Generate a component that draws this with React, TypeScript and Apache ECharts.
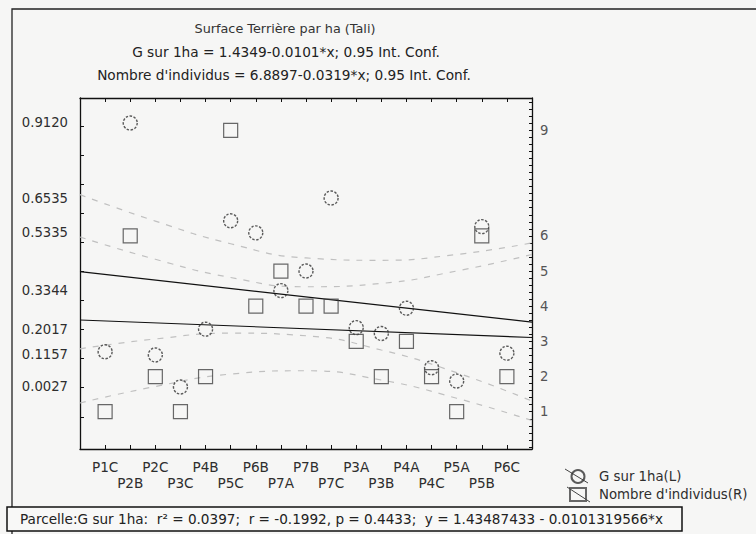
import React, { useEffect, useRef } from "react";
import * as echarts from "echarts";

const categories = ["P1C", "P2B", "P2C", "P3C", "P4B", "P5C", "P6B", "P7A", "P7B", "P7C", "P3A", "P3B", "P4A", "P4C", "P5A", "P5B", "P6C"];
const gValues = [0.124, 0.912, 0.113, 0.0027, 0.2017, 0.575, 0.5335, 0.3344, 0.402, 0.6535, 0.207, 0.187, 0.274, 0.069, 0.023, 0.555, 0.119];
const nValues = [1, 6, 2, 1, 2, 9, 4, 5, 4, 4, 3, 2, 3, 2, 1, 6, 2];
const gLeftLabels = [0.912, 0.6535, 0.5335, 0.3344, 0.2017, 0.1157, 0.0027];
const nRightLabels = [1, 2, 3, 4, 5, 6, 9];
const gLeftTicks = [-0.1, 0, 0.1, 0.2, 0.3, 0.4, 0.5, 0.6, 0.7, 0.8, 0.9];
const gFit = [[0, 0.4], [18, 0.226]];
const nFit = [[0, 3.608], [18, 3.11]];
const bandX = [0, 3, 6, 9, 12, 15, 18];
const gUpper = [0.665, 0.574, 0.496, 0.447, 0.439, 0.459, 0.499];
const gLower = [0.134, 0.168, 0.188, 0.179, 0.13, 0.052, -0.046];
const nUpper = [5.968, 5.334, 4.816, 4.553, 4.648, 5.001, 5.47];
const nLower = [1.248, 1.717, 2.07, 2.165, 1.902, 1.384, 0.75];

const titleLines = [
  "Surface Terrière par ha (Tali)",
  "G sur 1ha = 1.4349-0.0101*x; 0.95 Int. Conf.",
  "Nombre d'individus = 6.8897-0.0319*x; 0.95 Int. Conf.",
];
const footerText = "Parcelle:G sur 1ha:  r² = 0.0397;  r = -0.1992, p = 0.4433;  y = 1.43487433 - 0.0101319566*x";
const gName = "G sur 1ha(L)";
const nName = "Nombre d'individus(R)";

const FONT = "'DejaVu Sans', 'Liberation Sans', Arial, sans-serif";
const INK = "#2e2e2e";

export default function App() {
  const ref = useRef<HTMLDivElement>(null);
  useEffect(() => {
    if (!ref.current) return;
    const chart = echarts.init(ref.current, undefined, { renderer: "svg" });
    const rightTicks: number[] = [];
    for (let i = 0; i <= 49; i++) rightTicks.push(Math.round(i * 0.2 * 100) / 100);

    const band = (name: string, vals: number[], yi: number) => ({
      name,
      type: "line",
      yAxisIndex: yi,
      smooth: true,
      symbol: "none",
      silent: true,
      data: bandX.map((x, i) => [x, vals[i]]),
      lineStyle: { color: "#c0c0c0", width: 1.2, type: [6, 7] },
      z: 1,
    });

    const axisLine = { show: true, onZero: false, lineStyle: { color: "#111", width: 1.3 } };

    const option: any = {
      animation: false,
      backgroundColor: "#f6f6f5",
      textStyle: { fontFamily: FONT },
      grid: { left: 80, right: 224, top: 98, bottom: 85, containLabel: false },
      legend: {
        show: true,
        orient: "vertical",
        left: 564,
        top: 464,
        itemGap: 3,
        itemWidth: 16,
        itemHeight: 13,
        data: [gName, nName],
        textStyle: { fontFamily: FONT, fontSize: 13.3, color: INK, padding: [0, 0, 0, 8] },
        selectedMode: false,
      },
      xAxis: [
        {
          type: "value",
          min: 0,
          max: 18,
          interval: 1,
          position: "bottom",
          axisLine,
          axisTick: { inside: true, length: 4, lineStyle: { color: "#111" } },
          splitLine: { show: false },
          axisLabel: {
            margin: 10,
            fontSize: 13.6,
            lineHeight: 16,
            color: INK,
            fontFamily: FONT,
            formatter: (v: number) => {
              if (v < 1 || v > 17) return "";
              const name = categories[v - 1];
              return v % 2 === 0 ? "\n" + name : name;
            },
          },
        },
        {
          type: "value",
          min: 0,
          max: 18,
          interval: 1,
          position: "top",
          axisLine,
          axisTick: { inside: true, length: 4, lineStyle: { color: "#111" } },
          axisLabel: { show: false },
          splitLine: { show: false },
        },
      ],
      yAxis: [
        {
          type: "value",
          min: -0.211,
          max: 0.998,
          position: "left",
          axisLine,
          axisTick: { show: true, inside: true, length: 4, customValues: gLeftTicks, lineStyle: { color: "#111" } },
          splitLine: { show: false },
          axisLabel: {
            customValues: gLeftLabels,
            margin: 12,
            fontSize: 13.2,
            color: INK,
            fontFamily: FONT,
            formatter: (v: number) => v.toFixed(4),
          },
        },
        {
          type: "value",
          min: -0.06,
          max: 9.92,
          position: "right",
          axisLine,
          axisTick: { show: true, inside: true, length: 3, customValues: rightTicks, lineStyle: { color: "#111" } },
          splitLine: { show: false },
          axisLabel: {
            customValues: nRightLabels,
            margin: 8,
            fontSize: 13.2,
            color: "#555",
            fontFamily: FONT,
          },
        },
      ],
      series: [
        band("gUp", gUpper, 0),
        band("gLo", gLower, 0),
        band("nUp", nUpper, 1),
        band("nLo", nLower, 1),
        {
          name: "gFit",
          type: "line",
          yAxisIndex: 0,
          symbol: "none",
          silent: true,
          data: gFit,
          lineStyle: { color: "#111", width: 1.3 },
          z: 2,
        },
        {
          name: "nFit",
          type: "line",
          yAxisIndex: 1,
          symbol: "none",
          silent: true,
          data: nFit,
          lineStyle: { color: "#111", width: 1.1 },
          z: 2,
        },
        {
          name: gName,
          type: "scatter",
          yAxisIndex: 0,
          symbol: "circle",
          symbolSize: 14,
          data: gValues.map((v, i) => [i + 1, v]),
          itemStyle: { color: "rgba(0,0,0,0)", borderColor: "#333", borderWidth: 1.4, borderType: [2.5, 1.5] },
          z: 3,
        },
        {
          name: nName,
          type: "scatter",
          yAxisIndex: 1,
          symbol: "rect",
          symbolSize: 14,
          data: nValues.map((v, i) => [i + 1, v]),
          itemStyle: { color: "rgba(0,0,0,0)", borderColor: "#444", borderWidth: 1.2 },
          z: 3,
        },
      ],
      graphic: [
        {
          type: "rect",
          silent: true,
          shape: { x: 12, y: 9, width: 800, height: 600 },
          style: { fill: "none", stroke: "#222", lineWidth: 1.3 },
        },
        {
          type: "text",
          x: 285,
          y: 28,
          style: { text: titleLines[0], font: `12.8px ${FONT}`, fill: "#333", align: "center", verticalAlign: "middle" },
        },
        {
          type: "text",
          x: 286,
          y: 52,
          style: { text: titleLines[1], font: `13.7px ${FONT}`, fill: "#222", align: "center", verticalAlign: "middle" },
        },
        {
          type: "text",
          x: 284,
          y: 75,
          style: { text: titleLines[2], font: `13.7px ${FONT}`, fill: "#222", align: "center", verticalAlign: "middle" },
        },
        {
          type: "line",
          silent: true,
          shape: { x1: 565, y1: 469, x2: 588, y2: 483 },
          style: { stroke: "#444", lineWidth: 1 },
        },
        {
          type: "line",
          silent: true,
          shape: { x1: 567, y1: 487, x2: 590, y2: 502 },
          style: { stroke: "#444", lineWidth: 1 },
        },
        {
          type: "rect",
          shape: { x: 7, y: 507, width: 675, height: 24 },
          style: { fill: "#f8f8f7", stroke: "#111", lineWidth: 1.5 },
        },
        {
          type: "text",
          x: 20,
          y: 519,
          style: { text: footerText, font: `13.6px ${FONT}`, fill: "#222", verticalAlign: "middle" },
        },
      ],
    };
    chart.setOption(option);
    return () => chart.dispose();
  }, []);
  return (
    <div
      ref={ref}
      style={{ position: "fixed", left: 0, top: 0, width: 756, height: 534 }}
    />
  );
}
